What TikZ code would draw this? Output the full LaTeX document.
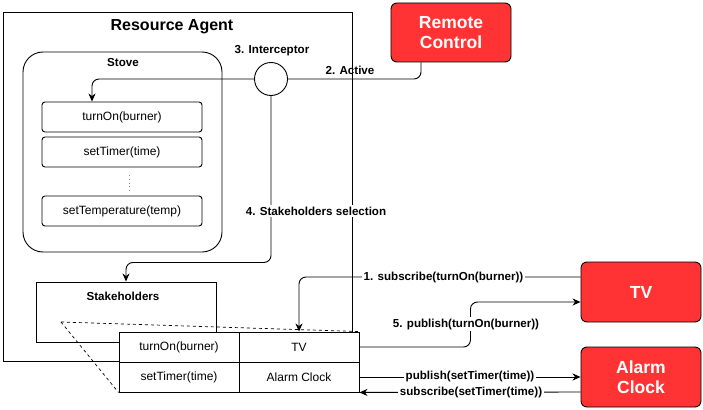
\documentclass[tikz,border=0pt]{standalone}
\usepackage{fontspec}
\setmainfont{Liberation Sans}
\usetikzlibrary{arrows.meta}
\definecolor{boxred}{HTML}{FF3333}
\begin{document}
\begin{tikzpicture}[x=1pt,y=-1pt,line width=0.9pt,
  frame/.style={draw, inner sep=0pt},
  method/.style={draw, rounded corners=3pt, minimum width=160pt, minimum height=30pt, inner sep=0pt, font=\fontsize{12}{14}\selectfont},
  cell/.style={draw, fill=white, minimum width=120pt, minimum height=30pt, inner sep=0pt, font=\fontsize{12}{14}\selectfont},
  actor/.style={draw, fill=boxred, rounded corners=6pt, minimum width=120pt, minimum height=59pt, inner sep=0pt, text=white, align=center, font=\fontsize{17.5}{20}\selectfont\bfseries},
  lbl/.style={inner sep=1.5pt, fill=white, font=\fontsize{11.6}{13}\selectfont\bfseries},
  arr/.style={-{Stealth[length=8pt,width=7pt,inset=2.5pt]}, rounded corners=7pt},
  conn/.style={rounded corners=7pt}
]
\useasboundingbox (0,0) rectangle (703,409);

% Resource agent
\node[frame, minimum width=349pt, minimum height=349pt] (agent) at (177.5,186.5) {};
\node[font=\fontsize{16}{19}\selectfont\bfseries, inner sep=0pt] (agentT) at (172,27) {Resource Agent};

% Stove
\node[frame, rounded corners=20pt, minimum width=199pt, minimum height=200pt] (stove) at (122.5,152) {};
\node[font=\fontsize{11.6}{13}\selectfont\bfseries, inner sep=0pt] (stoveT) at (123,63) {Stove};
\node[method] (m1) at (122,117) {turnOn(burner)};
\node[method] (m2) at (122,152) {setTimer(time)};
\coordinate (dotsA) at (129,175);
\coordinate (dotsB) at (129,191);
\draw[gray, line width=0.7pt, dash pattern=on 0.8pt off 3pt] (dotsA) -- (dotsB);
\node[method] (m3) at (122,211) {setTemperature(temp)};

% Interceptor
\node[draw, circle, minimum size=33pt, inner sep=0pt, fill=white] (int) at (271,79) {};
\node[lbl, fill=none] (intT) at (272,51) {3. Interceptor};

% Remote control
\node[actor] (rc) at (451,32.5) {Remote\\Control};

% Stakeholders
\node[frame, minimum width=180pt, minimum height=60pt] (sh) at (126,312) {};
\node[font=\fontsize{11.6}{13}\selectfont\bfseries, inner sep=0pt] (shT) at (123,296) {Stakeholders};

% zoom lines
\coordinate (zp) at (61,322);

% Table
\node[cell] (c11) at (179,347) {turnOn(burner)};
\node[cell] (c12) at (299,347) {TV};
\node[cell] (c21) at (179,377) {setTimer(time)};
\node[cell] (c22) at (299,377) {Alarm Clock};
\draw[dashed, line width=0.7pt] (zp) -- (c12.north east);
\draw[dashed, line width=0.7pt] (zp) -- (c21.south west);

% TV and Alarm clock
\node[actor, minimum height=60pt] (tv) at (641,292) {TV};
\node[actor, minimum height=60pt] (ac) at (641,377) {Alarm\\Clock};

% connectors
\draw[conn] ([xshift=-30pt]rc.south) |- (int.east);
\node[lbl, fill=none] (l2) at (350,70) {2. Active};
\draw[arr] (int.west) -| ([xshift=-30pt]m1.north);
\draw[arr] (int.south) -- ++(0,166.5) -| (sh.north);
\node[lbl] (l4) at (316,211) {4. Stakeholders selection};
\draw[arr] ([yshift=15pt]tv.west) -| (c12.north);
\node[lbl] (l1) at (443.5,277) {1. subscribe(turnOn(burner))};
\draw[arr] (c12.east) -- ++(111,0) |- ([yshift=-10pt]tv.west);
\node[lbl] (l5) at (466,324) {5. publish(turnOn(burner))};
\draw[arr] (c22.east) -- (ac.west);
\node[lbl] (l6) at (470,376) {publish(setTimer(time))};
\draw[arr] ([yshift=-15pt]ac.west) -- (c22.south east);
\node[lbl] (l7) at (471,392) {subscribe(setTimer(time))};
\end{tikzpicture}
\end{document}
